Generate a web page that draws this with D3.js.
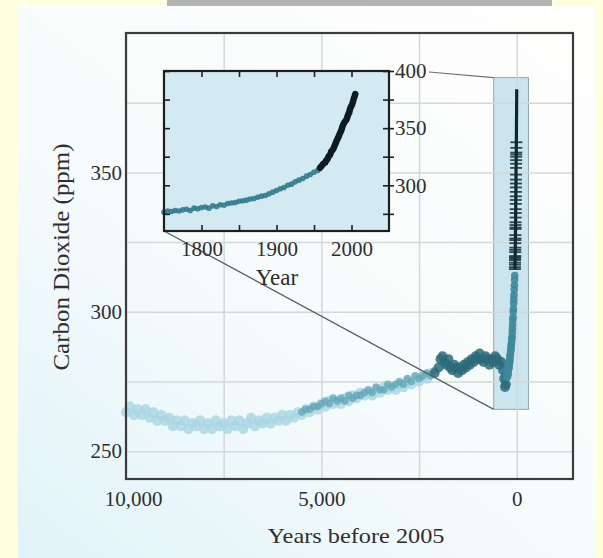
<!DOCTYPE html>
<html>
<head>
<meta charset="utf-8">
<script src="https://cdn.jsdelivr.net/npm/d3@7"></script>
<style>
  body { margin: 0; background: #ffffe0; }
  text { font-family: "Liberation Serif", "DejaVu Serif", serif; fill: #2e2e2e; }
</style>
</head>
<body>
<svg id="chart"></svg>
<script>
// Main chart tick values
const mainXGrid = [10000, 7500, 5000, 2500, 0];
const mainXLabels = [10000, 5000, 0];
const mainYGrid = [250, 275, 300, 325, 350, 375];
const mainYLabels = [250, 300, 350];

// Inset tick values
const insetXTicks = [1800, 1850, 1900, 1950, 2000];
const insetYTicks = [275, 300, 325, 350, 375, 400];

// Ice core, older part (years before 2005, ppm), light cyan
const lightBP = [10000,9900,9800,9700,9600,9500,9400,9300,9200,9100,9000,8900,8800,8700,8600,8500,8400,8300,8200,8100,
  8000,7900,7800,7700,7600,7500,7400,7300,7200,7100,7000,6900,6800,6700,6600,6500,6400,6300,6200,6100,
  6000,5900,5800,5700,5600,5500,5400,5300,5200,5100,5000,4900,4800,4700,4600,4500,4400,4300,4200,4100,
  4000,3900,3800,3700,3600,3500,3400,3300,3200,3100,3000,2900,2800,2700,2600,2500,2400,2300,2200];
const lightPpm = [264,266,263,265,263,265,262,264,261,263,261,262,259,261,259,261,258,260,259,261,
  258,260,258,261,259,260,258,261,259,261,258,260,262,259,261,260,262,260,262,261,
  263,261,263,262,264,263,265,264,266,265,267,266,268,267,268,267,269,268,270,269,
  271,270,271,270,272,271,273,272,273,272,274,273,275,274,276,275,277,276,278];

// Ice core, middle part, teal
const midBP = [5500,5400,5300,5200,5100,5000,4900,4800,4700,4600,4500,4400,4300,4200,4100,4000,3900,3800,3700,3600,
  3500,3400,3300,3200,3100,3000,2900,2800,2700,2600,2500,2400,2300,2200,2100];
const midPpm = [264,265,265,266,266,267,268,267,269,268,269,268,270,269,270,270,271,272,271,273,
  272,272,274,273,274,275,274,276,275,277,276,277,278,277,279];

// Ice core, last two millennia, dark teal
const darkBP = [2100,2000,1950,1900,1850,1800,1750,1700,1650,1600,1550,1500,1450,1400,1350,1300,1250,1200,1150,1100,
  1050,1000,950,900,850,800,750,700,650,600,550,500,450,400,350,320,300,280,260];
const darkPpm = [278,280,283,284,282,281,283,280,279,281,280,278,280,279,281,280,282,281,283,282,
  284,283,285,283,282,284,283,281,283,282,284,283,281,282,279,276,273,274,277];

// Ice core / firn since 1750 (calendar year, ppm)
const coreYear = [1750,1755,1760,1765,1770,1775,1780,1785,1790,1795,1800,1805,1810,1815,1820,1825,1830,1835,1840,1845,
  1850,1855,1860,1865,1870,1875,1880,1885,1890,1895,1900,1905,1910,1915,1920,1925,1930,1935,1940,1945,1950,1955];
const corePpm = [276.5,277.5,277,278,277.5,278.5,279,278,280,279.5,280.5,281,280,282,281.5,283,282.5,284,284.5,285,
  286,286.5,287,288,288.5,289.5,290.5,291,292.5,294,295.5,297,298,300,301,303,304.5,306,308,309.5,311.5,313];

// Atmospheric measurements (calendar year, ppm)
const mlYear = [1958,1959,1960,1961,1962,1963,1964,1965,1966,1967,1968,1969,1970,1971,1972,1973,1974,1975,1976,1977,
  1978,1979,1980,1981,1982,1983,1984,1985,1986,1987,1988,1989,1990,1991,1992,1993,1994,1995,1996,1997,
  1998,1999,2000,2001,2002,2003,2004,2005];
const mlPpm = [315.3,316.0,316.9,317.6,318.5,319.0,319.6,320.0,321.4,322.2,323.0,324.6,325.7,326.3,327.5,329.7,330.2,331.1,332.1,333.8,
  335.4,336.8,338.7,340.1,341.4,343.0,344.6,346.0,347.4,349.2,351.6,353.1,354.4,355.6,356.4,357.1,358.8,360.8,362.6,363.7,
  366.7,368.4,369.6,371.1,373.2,375.8,377.5,379.8];

// Zoomed region marked on the main chart (years before 2005, ppm)
const zoomBoxBP = [590, -300];
const zoomBoxPpm = [265, 384];

const width = 603;
const height = 558;

const svg = d3.select("#chart")
  .attr("width", width)
  .attr("height", height);

// photo background
const defs = svg.append("defs");
const grad = defs.append("linearGradient")
  .attr("id", "paper")
  .attr("x1", "0.8").attr("y1", "0")
  .attr("x2", "0").attr("y2", "1");
grad.append("stop").attr("offset", "0").attr("stop-color", "#fefefd");
grad.append("stop").attr("offset", "0.55").attr("stop-color", "#f5fbfb");
grad.append("stop").attr("offset", "1").attr("stop-color", "#e0f3f8");

svg.append("rect").attr("width", width).attr("height", height).attr("fill", "#ffffe0");
svg.append("rect").attr("x", 167).attr("y", 0).attr("width", 385).attr("height", 6).attr("fill", "#b3b3b3");
svg.append("rect").attr("x", 18).attr("y", 6).attr("width", 577).attr("height", 552).attr("fill", "url(#paper)");

// main chart scales
const mLeft = 126, mRight = 573, mTop = 33, mBottom = 479;
const x = d3.scaleLinear().domain([10000, -1440]).range([mLeft, mRight]);
const y = d3.scaleLinear().domain([240, 400]).range([mBottom, mTop]);

// zoom box
svg.append("rect")
  .attr("x", x(zoomBoxBP[0]))
  .attr("y", y(zoomBoxPpm[1]))
  .attr("width", x(zoomBoxBP[1]) - x(zoomBoxBP[0]))
  .attr("height", y(zoomBoxPpm[0]) - y(zoomBoxPpm[1]))
  .attr("fill", "#cbe5ee")
  .attr("stroke", "#8fa8b0")
  .attr("stroke-width", 1);

// gridlines
svg.append("g")
  .attr("transform", `translate(0,${mBottom})`)
  .call(d3.axisBottom(x).tickValues(mainXGrid).tickSize(-(mBottom - mTop)).tickFormat(""))
  .call(g => g.select(".domain").remove())
  .call(g => g.selectAll("line").attr("stroke", "#d3d8da").attr("stroke-width", 1.5));

svg.append("g")
  .attr("transform", `translate(${mLeft},0)`)
  .call(d3.axisLeft(y).tickValues(mainYGrid).tickSize(-(mRight - mLeft)).tickFormat(""))
  .call(g => g.select(".domain").remove())
  .call(g => g.selectAll("line").attr("stroke", "#d3d8da").attr("stroke-width", 1.5));

// data
function dots(bp, ppm, color, r, op) {
  svg.append("g").selectAll("circle")
    .data(bp.map((d, i) => [d, ppm[i]]))
    .enter().append("circle")
    .attr("cx", d => x(d[0]))
    .attr("cy", d => y(d[1]))
    .attr("r", r)
    .attr("fill", color)
    .attr("fill-opacity", op);
}
dots(lightBP, lightPpm, "#a7d6e2", 5.2, 0.8);
dots(midBP, midPpm, "#62a5b6", 3.8, 0.75);
dots(darkBP, darkPpm, "#2b6b79", 5, 0.85);
dots(coreYear.map(d => 2005 - d), corePpm, "#3d8a9b", 3.8, 0.9);

// atmospheric record on main chart: vertical trace plus bar markers
svg.append("path")
  .datum(mlYear.map((d, i) => [2005 - d, mlPpm[i]]))
  .attr("d", d3.line().x(d => x(d[0])).y(d => y(d[1])))
  .attr("fill", "none")
  .attr("stroke", "#10262c")
  .attr("stroke-width", 3.2);
svg.append("g").selectAll("line")
  .data(mlYear.map((d, i) => [2005 - d, mlPpm[i]]).filter(d => d[1] < 362))
  .enter().append("line")
  .attr("x1", d => x(d[0]) - 6)
  .attr("x2", d => x(d[0]) + 6)
  .attr("y1", d => y(d[1]))
  .attr("y2", d => y(d[1]))
  .attr("stroke", "#142c33")
  .attr("stroke-opacity", 0.85)
  .attr("stroke-width", 1.8);

// main frame
svg.append("rect")
  .attr("x", mLeft).attr("y", mTop)
  .attr("width", mRight - mLeft).attr("height", mBottom - mTop)
  .attr("fill", "none")
  .attr("stroke", "#3c3c3c")
  .attr("stroke-width", 2.2);

// main axis labels
svg.append("g")
  .attr("transform", `translate(0,${mBottom})`)
  .call(d3.axisBottom(x).tickValues(mainXLabels).tickSize(0).tickPadding(12).tickFormat(d3.format(",")))
  .call(g => g.select(".domain").remove())
  .call(g => g.selectAll("text")
    .attr("font-size", 21)
    .attr("font-family", "Liberation Serif")
    .attr("fill", "#2e2e2e")
    .attr("dx", d => d === 10000 ? 7 : 0));

svg.append("g")
  .attr("transform", `translate(${mLeft},0)`)
  .call(d3.axisLeft(y).tickValues(mainYLabels).tickSize(0).tickPadding(4))
  .call(g => g.select(".domain").remove())
  .call(g => g.selectAll("text")
    .attr("font-size", 21)
    .attr("font-family", "Liberation Serif")
    .attr("fill", "#2e2e2e"));

svg.append("text")
  .attr("x", 356).attr("y", 543)
  .attr("text-anchor", "middle")
  .attr("font-size", 22)
  .attr("textLength", 177)
  .attr("lengthAdjust", "spacingAndGlyphs")
  .text("Years before 2005");

svg.append("text")
  .attr("transform", "translate(69,257) rotate(-90)")
  .attr("text-anchor", "middle")
  .attr("font-size", 23)
  .attr("textLength", 227)
  .attr("lengthAdjust", "spacingAndGlyphs")
  .text("Carbon Dioxide (ppm)");

// inset
const iLeft = 164, iRight = 389, iTop = 71, iBottom = 231;
const xi = d3.scaleLinear().domain([1750, 2050]).range([iLeft, iRight]);
const yi = d3.scaleLinear().domain([260, 400]).range([iBottom, iTop]);

// connector lines
svg.append("line")
  .attr("x1", iRight + 40).attr("y1", iTop + 1)
  .attr("x2", x(zoomBoxBP[0])).attr("y2", y(zoomBoxPpm[1]))
  .attr("stroke", "#6f6f6f").attr("stroke-width", 1.2);
svg.append("line")
  .attr("x1", iLeft).attr("y1", iBottom)
  .attr("x2", x(zoomBoxBP[0])).attr("y2", y(zoomBoxPpm[0]))
  .attr("stroke", "#5f5f5f").attr("stroke-width", 1.3);

svg.append("rect")
  .attr("x", iLeft).attr("y", iTop)
  .attr("width", iRight - iLeft).attr("height", iBottom - iTop)
  .attr("fill", "#d4eaf2");

// inset data
svg.append("g").selectAll("circle")
  .data(coreYear.map((d, i) => [d, corePpm[i]]))
  .enter().append("circle")
  .attr("cx", d => xi(d[0]))
  .attr("cy", d => yi(d[1]))
  .attr("r", 2.8)
  .attr("fill", "#2a7587")
  .attr("fill-opacity", 0.85);

svg.append("path")
  .datum(mlYear.map((d, i) => [d, mlPpm[i]]))
  .attr("d", d3.line().x(d => xi(d[0])).y(d => yi(d[1])))
  .attr("fill", "none")
  .attr("stroke", "#0c1c20")
  .attr("stroke-width", 6.5)
  .attr("stroke-linecap", "round");

// inset frame and ticks
svg.append("rect")
  .attr("x", iLeft).attr("y", iTop)
  .attr("width", iRight - iLeft).attr("height", iBottom - iTop)
  .attr("fill", "none")
  .attr("stroke", "#1e1e1e")
  .attr("stroke-width", 2.2);

function styleTicks(g) {
  g.select(".domain").remove();
  g.selectAll("line").attr("stroke", "#1e1e1e").attr("stroke-width", 1.6);
  g.selectAll("text").attr("font-size", 21).attr("font-family", "Liberation Serif").attr("fill", "#2e2e2e");
}

svg.append("g")
  .attr("transform", `translate(0,${iBottom})`)
  .call(d3.axisBottom(xi).tickValues(insetXTicks).tickSizeInner(-6).tickSizeOuter(0).tickPadding(10)
    .tickFormat(d => d % 100 === 0 ? d : ""))
  .call(styleTicks);
svg.append("g")
  .attr("transform", `translate(0,${iTop})`)
  .call(d3.axisTop(xi).tickValues(insetXTicks).tickSizeInner(-6).tickSizeOuter(0).tickFormat(""))
  .call(styleTicks);
svg.append("g")
  .attr("transform", `translate(${iLeft},0)`)
  .call(d3.axisLeft(yi).tickValues(insetYTicks).tickSizeInner(-6).tickSizeOuter(0).tickFormat(""))
  .call(styleTicks);
svg.append("g")
  .attr("transform", `translate(${iRight},0)`)
  .call(d3.axisRight(yi).tickValues(insetYTicks).tickSizeInner(-6).tickSizeOuter(0).tickFormat(""))
  .call(styleTicks);
svg.append("g")
  .attr("transform", `translate(${iRight},0)`)
  .call(d3.axisRight(yi).tickValues(insetYTicks).tickSizeInner(5).tickSizeOuter(0).tickPadding(1)
    .tickFormat(d => d % 50 === 0 ? d : ""))
  .call(styleTicks);

svg.append("text")
  .attr("x", 277).attr("y", 285)
  .attr("text-anchor", "middle")
  .attr("font-size", 23)
  .text("Year");
</script>
</body>
</html>
